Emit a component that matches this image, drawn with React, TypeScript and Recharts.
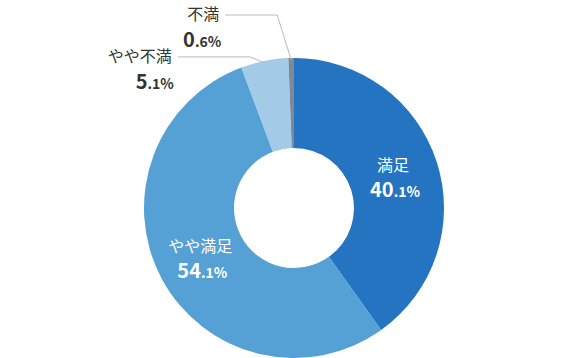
import React from 'react';
import { Cell, Pie, PieChart } from 'recharts';

const categories = ['満足', 'やや満足', 'やや不満', '不満'];
const shares = [40.1, 54.1, 5.1, 0.6];
const COLORS = ['#2474c2', '#55a0d5', '#a3cbe7', '#7b8998'];

const data = categories.map((name, i) => ({ name, value: shares[i] }));

const RAD = Math.PI / 180;
const FONT = '"Noto Sans CJK JP", "Noto Sans", sans-serif';

// outside labels: [elbow dx, elbow rise, length of the flat part]
const OUTSIDE: Record<number, [number, number, number]> = {
  2: [15, 6, 72],
  3: [14, 45, 52],
};

function splitValue(v: number) {
  const [a, b] = v.toFixed(1).split('.');
  return [a, `.${b}%`];
}

function renderLabel(props: any) {
  const { cx, cy, midAngle, innerRadius, outerRadius, index, value, name } = props;
  const [big, small] = splitValue(value);
  const out = OUTSIDE[index];
  if (!out) {
    const r = (innerRadius + outerRadius) / 2;
    const x = cx + r * Math.cos(-midAngle * RAD);
    const y = cy + r * Math.sin(-midAngle * RAD);
    return (
      <g key={`l-${index}`}>
        <text x={x - 1} y={y - 5} textAnchor="middle" fill="#fff" fontSize={16} fontFamily={FONT}>
          {name}
        </text>
        <text x={x + 1} y={y + 21} textAnchor="middle" fill="#fff" fontFamily={FONT} fontWeight="bold">
          <tspan fontSize={20}>{big}</tspan>
          <tspan fontSize={14}>{small}</tspan>
        </text>
      </g>
    );
  }
  const ex = cx + (outerRadius - 2) * Math.cos(-midAngle * RAD);
  const ey = cy + (outerRadius - 2) * Math.sin(-midAngle * RAD);
  const [dx, rise, flat] = out;
  const kx = ex - dx;
  const ky = ey - rise;
  const hx = kx - flat;
  return (
    <g key={`l-${index}`}>
      <polyline points={`${ex},${ey} ${kx},${ky} ${hx},${ky}`} fill="none" stroke="#bbbbbb" strokeWidth={1} />
      <text x={hx - 6} y={ky + 5} textAnchor="end" fill="#333" fontSize={16} fontFamily={FONT}>
        {name}
      </text>
      <text x={hx - 4} y={ky + 32} textAnchor="end" fill="#333" fontFamily={FONT} fontWeight="bold">
        <tspan fontSize={20}>{big}</tspan>
        <tspan fontSize={14}>{small}</tspan>
      </text>
    </g>
  );
}

export default function App() {
  return (
    <div style={{ position: 'absolute', left: 0, top: 0, width: 580, height: 358, background: '#fff' }}>
      <PieChart width={580} height={358} margin={{ top: 0, right: 0, bottom: 0, left: 0 }}>
        <Pie
          data={data}
          dataKey="value"
          nameKey="name"
          cx={294}
          cy={208}
          innerRadius={60}
          outerRadius={150}
          startAngle={90}
          endAngle={-270}
          stroke="none"
          label={renderLabel}
          labelLine={false}
          isAnimationActive={false}
        >
          {data.map((d, i) => (
            <Cell key={d.name} fill={COLORS[i]} />
          ))}
        </Pie>
      </PieChart>
    </div>
  );
}
